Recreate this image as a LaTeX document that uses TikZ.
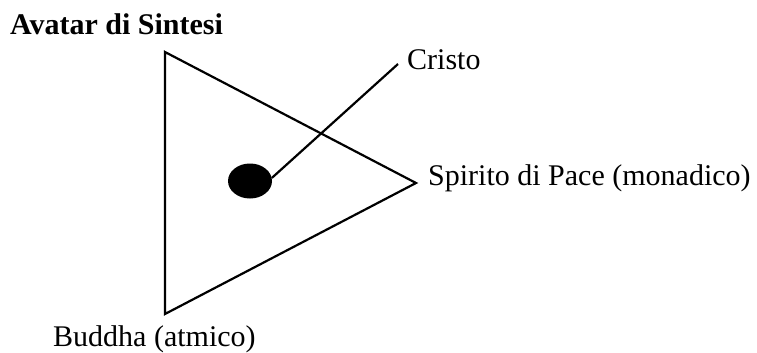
\documentclass[tikz,border=0pt]{standalone}
\usepackage{fontspec}
\setmainfont{Liberation Serif}
\usetikzlibrary{shapes.geometric}
\begin{document}
\begin{tikzpicture}[x=1pt,y=-1pt,
  lbl/.style={anchor=base west,inner sep=0pt,font=\fontsize{30}{36}\selectfont},
  edge/.style={line width=2.2pt}]
\useasboundingbox (0,0) rectangle (757,353);
\coordinate (tA) at (165,52);
\coordinate (tB) at (416,183);
\coordinate (tC) at (165,314);
\draw[edge] (tA) -- (tB) -- (tC) -- cycle;
\node[ellipse,fill=black,minimum width=44pt,minimum height=35pt,inner sep=0pt] (dot) at (250,181) {};
\coordinate (cend) at (398,64);
\draw[edge] (dot.8) -- (cend);
\node[lbl,font=\fontsize{30}{36}\selectfont\bfseries] (avatar) at (10,35) {Avatar di Sintesi};
\node[lbl] (cristo) at (407,70) {Cristo};
\node[lbl] (spirito) at (428,185) {Spirito di Pace (monadico)};
\node[lbl] (buddha) at (53,346) {Buddha (atmico)};
\end{tikzpicture}
\end{document}
